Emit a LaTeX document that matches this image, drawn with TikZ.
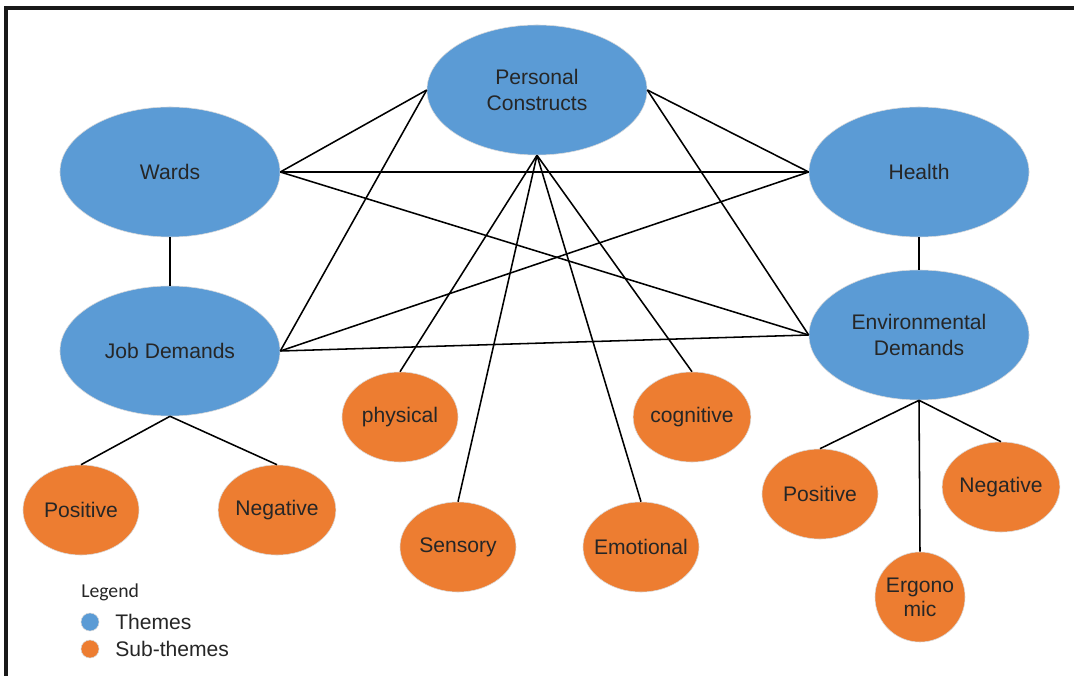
\documentclass[tikz,border=0pt]{standalone}
\usepackage{fontspec}
\setmainfont{Liberation Sans}
\newfontfamily\legendfont{Carlito}
\usetikzlibrary{shapes.geometric}
\definecolor{themeblue}{HTML}{5B9BD5}
\definecolor{suborange}{HTML}{ED7D31}
\definecolor{txtgray}{HTML}{262626}
\tikzstyle{theme}=[ellipse,fill=themeblue,draw=gray!30,thin,minimum width=5.5cm,minimum height=3.25cm,inner sep=0pt,align=center,text=txtgray,font=\fontsize{15}{18}\selectfont]
\tikzstyle{subtheme}=[ellipse,fill=suborange,draw=gray!30,thin,minimum width=2.9cm,minimum height=2.25cm,inner sep=0pt,align=center,text=txtgray,font=\fontsize{15}{18}\selectfont]
\tikzstyle{link}=[-,line width=1.1pt,black]
\tikzstyle{dot}=[circle,minimum size=0.45cm,inner sep=0pt,draw=gray!30,thin]
\tikzstyle{legtext}=[anchor=west,inner sep=0pt,text=txtgray,font=\fontsize{15}{18}\selectfont]

\begin{document}
\begin{tikzpicture}[x=0.025cm,y=-0.025cm]

  \useasboundingbox (0,0) rectangle (1074,676);
  \draw[line width=2.4pt,black!90] (6,676)--(6,8)--(1074,8);

  % themes
  \node[theme] (PC) at (537,90) {Personal\\Constructs};
  \node[theme] (W) at (170,172) {Wards};
  \node[theme] (H) at (919,172) {Health};
  \node[theme] (JD) at (170,351) {Job Demands};
  \node[theme] (ED) at (919,335) {Environmental\\Demands};

  % sub-themes
  \node[subtheme] (phy) at (400,417) {physical};
  \node[subtheme] (cog) at (692,417) {cognitive};
  \node[subtheme] (posL) at (81,510) {Positive};
  \node[subtheme] (negL) at (277,510) {Negative};
  \node[subtheme] (sen) at (458,547) {Sensory};
  \node[subtheme,inner xsep=-5pt] (emo) at (641,547) {Emotional};
  \node[subtheme] (posR) at (820,494) {Positive};
  \node[subtheme] (negR) at (1001,487) {Negative};
  \node[subtheme,circle,minimum size=2.25cm,font=\fontsize{15}{17}\selectfont] (erg) at (920,597) {Ergono\\mic};

  \draw[link] (W.south)--(JD.north); \draw[link] (H.south)--(ED.north);
  \draw[link] (W.east)--(PC.west); \draw[link] (JD.east)--(PC.west);
  \draw[link] (PC.east)--(H.west); \draw[link] (PC.east)--(ED.west);
  \draw[link] (W.east)--(H.west); \draw[link] (W.east)--(ED.west);
  \draw[link] (JD.east)--(H.west); \draw[link] (JD.east)--(ED.west);
  \draw[link] (PC.south)--(phy.north); \draw[link] (PC.south)--(sen.north);
  \draw[link] (PC.south)--(emo.north); \draw[link] (PC.south)--(cog.north);
  \draw[link] (JD.south)--(posL.north); \draw[link] (JD.south)--(negL.north);
  \draw[link] (ED.south)--(posR.north); \draw[link] (ED.south)--(negR.north);
  \draw[link] (ED.south)--(erg.north);
  %
  \node[anchor=west,inner sep=0pt,text=txtgray,font=\legendfont\fontsize{14}{16}\selectfont] (leg) at (81,592) {Legend};
  \node[dot,fill=themeblue] (d1) at (90,622) {};
  \node[dot,fill=suborange] (d2) at (90,649) {};
  \node[legtext] (t1) at (115,622) {Themes};
  \node[legtext] (t2) at (115,649) {Sub-themes};

\end{tikzpicture}
\end{document}
